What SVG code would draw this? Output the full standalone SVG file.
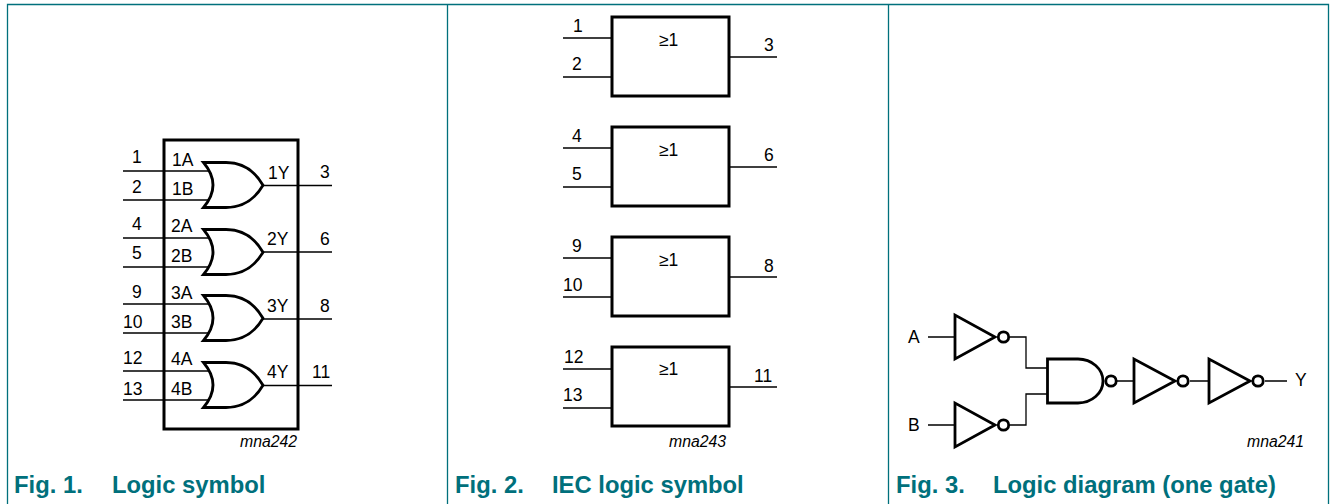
<svg xmlns="http://www.w3.org/2000/svg" width="1330" height="504" viewBox="0 0 1330 504">
<style>
text{font-family:"Liberation Sans",Arial,sans-serif;fill:#000}
.l{font-size:17.500px}
.m{font-size:15.800px;font-style:italic}
.c{font-size:23.800px;font-weight:bold;fill:#00707c}
.w{stroke:#000;stroke-width:1.300;fill:none}
.s{stroke:#000;stroke-width:2.800;fill:#fff;stroke-linejoin:miter}
.b{stroke:#000;stroke-width:3;fill:none}
.f{stroke:#00707c;stroke-width:1.300;fill:none}
</style>
<defs>
<path id="or" class="s" d="M203.500 162.500Q222.500 185 203.500 207.500H226Q250 207.500 263 185.200Q250 162.500 226 162.500Z"/>
</defs>
<rect fill="#fff" width="1330" height="504"/>
<g id="frame">
<path class="f" d="M7.500 504V4.500H1328.500V504M447.500 4.500V504M888.500 4.500V504"/>
</g>
<g id="captions">
<text class="c" x="14" y="492.500">Fig. 1.</text><text class="c" x="112" y="492.500">Logic symbol</text>
<text class="c" x="455" y="492.500">Fig. 2.</text><text class="c" x="552" y="492.500">IEC logic symbol</text>
<text class="c" x="896" y="492.500">Fig. 3.</text><text class="c" x="993" y="492.500">Logic diagram (one gate)</text>
<text class="m" x="240" y="446.500">mna242</text>
<text class="m" x="669" y="446.500">mna243</text>
<text class="m" x="1247" y="447">mna241</text>
</g>
<g id="connectors">
<path class="w" d="M123 171H210M123 200H210M263 185.500H332M123 238H210M123 267H210M263 252H332M123 304H210M123 333H210M263 319H332M123 371H210M123 400H210M263 385.500H332"/>
<path class="w" d="M563 38H612M563 77H612M729 57H777M563 148H612M563 187H612M729 167H777M563 258H612M563 297H612M729 277H777M563 369H612M563 408H612M729 387H777"/>
<path class="w" d="M928 337H955M1010 337H1026V368H1047M928 425H955M1010 425H1026V394H1047M1117 381H1134M1190 381H1209M1265 381H1287"/>
</g>
<g id="logic-symbol">
<rect class="b" x="164" y="140" width="134" height="289"/>
<use href="#or"/>
<use href="#or" y="67"/>
<use href="#or" y="133"/>
<use href="#or" y="200"/>
<g class="l">
<text x="132" y="163">1</text><text x="132" y="193">2</text><text x="132" y="230">4</text><text x="132" y="259">5</text><text x="132" y="298">9</text><text x="123" y="328">10</text><text x="123" y="364">12</text><text x="123" y="395">13</text>
<text x="172" y="166">1A</text><text x="172" y="195">1B</text><text x="171" y="232">2A</text><text x="171" y="262">2B</text><text x="171" y="299">3A</text><text x="171" y="328">3B</text><text x="171" y="365">4A</text><text x="171" y="395">4B</text>
<text x="268" y="179">1Y</text><text x="267" y="245">2Y</text><text x="267" y="312">3Y</text><text x="267" y="378">4Y</text>
<text x="320" y="178">3</text><text x="320" y="245">6</text><text x="320" y="312">8</text><text x="312" y="378">11</text>
</g>
</g>
<g id="iec-1"><rect class="b" x="612" y="17" width="117" height="79"/><g class="l"><text x="573" y="32">1</text><text x="572" y="70">2</text><text x="659" y="46">≥1</text><text x="764" y="51">3</text></g></g>
<g id="iec-2"><rect class="b" x="612" y="127" width="117" height="79"/><g class="l"><text x="572" y="142">4</text><text x="572" y="180">5</text><text x="659" y="156">≥1</text><text x="764" y="161">6</text></g></g>
<g id="iec-3"><rect class="b" x="612" y="237" width="117" height="79"/><g class="l"><text x="572" y="252">9</text><text x="563" y="291">10</text><text x="659" y="265.500">≥1</text><text x="764" y="271.500">8</text></g></g>
<g id="iec-4"><rect class="b" x="612" y="347" width="117" height="79"/><g class="l"><text x="564" y="363">12</text><text x="563" y="401">13</text><text x="659" y="375">≥1</text><text x="754" y="381.500">11</text></g></g>
<g id="not-a"><path class="s" d="M955 315V359L995 337Z"/><circle class="s" cx="1003.500" cy="337" r="5.200"/><text class="l" x="908" y="343">A</text></g>
<g id="not-b"><path class="s" d="M955 403V447L995 425Z"/><circle class="s" cx="1003.500" cy="425" r="5.200"/><text class="l" x="908" y="431">B</text></g>
<g id="nand"><path class="s" d="M1047.500 359H1078A25 22 0 0 1 1078 403H1047.500Z"/><circle class="s" cx="1111" cy="381" r="5.200"/></g>
<g id="not-c"><path class="s" d="M1134 359V403L1175 381Z"/><circle class="s" cx="1183" cy="381" r="5.200"/></g>
<g id="not-d"><path class="s" d="M1209 359V403L1250 381Z"/><circle class="s" cx="1258" cy="381" r="5.200"/><text class="l" x="1295" y="386">Y</text></g>
</svg>
